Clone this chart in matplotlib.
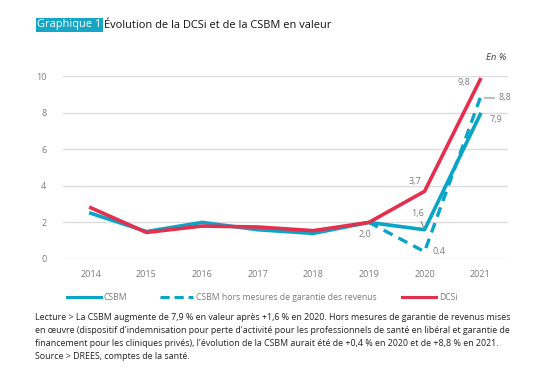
import matplotlib
matplotlib.use("Agg")
import matplotlib.pyplot as plt

plt.rcParams['font.family'] = ['Open Sans', 'DejaVu Sans']

years = [2014, 2015, 2016, 2017, 2018, 2019, 2020, 2021]
csbm = [2.5, 1.5, 2.0, 1.6, 1.4, 2.0, 1.6, 7.9]
dcsi = [2.8, 1.45, 1.8, 1.75, 1.55, 2.0, 3.7, 9.8]
csbm_hors_years = [2019, 2020, 2021]
csbm_hors = [2.0, 0.4, 8.8]
yticks = [0, 2, 4, 6, 8, 10]

BLUE = '#0aa5c6'
RED = '#e3304f'
GRAY = '#7a7a7a'

W, H = 549, 373
fig = plt.figure(figsize=(W / 100, H / 100), dpi=100)

def fx(px):
    return px / W

def fy(py):
    return 1 - py / H

ax = fig.add_axes([fx(63), fy(259), fx(508) - fx(63), fy(76) - fy(259)])
ax.set_xlim(2013.5, 2021.5)
ax.set_ylim(0, 10)
for s in ax.spines.values():
    s.set_visible(False)
ax.set_yticks(yticks)
ax.set_yticklabels([str(v) for v in yticks])
ax.set_xticks(years)
ax.set_xticklabels([str(y) for y in years])
ax.tick_params(length=0, labelsize=6.5, colors=GRAY, pad=8)
ax.tick_params(axis='y', pad=12)
ax.grid(axis='y', color='#dcdcdc', linewidth=1)
ax.set_axisbelow(True)

ax.plot(years, csbm, color=BLUE, lw=2.6, clip_on=False)
ax.plot(csbm_hors_years, csbm_hors, color=BLUE, lw=2.4, ls=(0, (3, 2)), clip_on=False)
ax.plot(years, dcsi, color=RED, lw=2.6, clip_on=False)

lab = dict(fontsize=6.5, color=GRAY, ha='center', va='center', textcoords='offset points', zorder=6)
ax.annotate('9,8', (2021, dcsi[7]), xytext=(-12, -2), **lab)
ax.annotate('8,8', (2021, csbm_hors[2]), xytext=(18, 0),
            arrowprops=dict(arrowstyle='-', color='#8a8a8a', lw=0.8, shrinkA=1, shrinkB=3), **lab)
ax.annotate('7,9', (2021, csbm[7]), xytext=(11, -4), **lab)
ax.annotate('3,7', (2020, dcsi[6]), xytext=(-7, 7), **lab)
ax.annotate('1,6', (2020, csbm[6]), xytext=(-5, 12),
            arrowprops=dict(arrowstyle='-', color='#8a8a8a', lw=0.8, shrinkA=1, shrinkB=1), **lab)
ax.annotate('2,0', (2019, csbm[5]), xytext=(-3, -9), **lab)
ax.annotate('0,4', (2020, csbm_hors[1]), xytext=(10, 0), **lab)

# Title
t1 = fig.text(fx(37), fy(25), 'Graphique 1', fontsize=7.9, color='white', ha='left', va='center',
              bbox=dict(boxstyle='square,pad=0.12', fc='#16a6c6', ec='none'))
fig.canvas.draw()
bb = t1.get_window_extent(fig.canvas.get_renderer())
fig.text((bb.x1 + 3) / W, fy(25), 'Évolution de la DCSi et de la CSBM en valeur', fontsize=7.9, color='#111111',
         ha='left', va='center')
fig.text(fx(506), fy(57), 'En %', fontsize=6.8, color='#444444', style='italic', ha='right', va='center')

# Legend
ly = fy(297)
fig.add_artist(plt.Line2D([fx(67), fx(101)], [ly, ly], color=BLUE, lw=2.2))
fig.text(fx(104), ly, 'CSBM', fontsize=6.2, color=GRAY, ha='left', va='center')
fig.add_artist(plt.Line2D([fx(160), fx(193)], [ly, ly], color=BLUE, lw=2.2, ls=(0, (3, 1.6))))
fig.text(fx(196), ly, 'CSBM hors mesures de garantie des revenus', fontsize=6.2, color=GRAY, ha='left', va='center')
fig.add_artist(plt.Line2D([fx(402), fx(436)], [ly, ly], color=RED, lw=2.2))
fig.text(fx(439), ly, 'DCSi', fontsize=6.2, color=GRAY, ha='left', va='center')

# Footnote
notes = [
    "Lecture > La CSBM augmente de 7,9 % en valeur après +1,6 % en 2020. Hors mesures de garantie de revenus mises",
    "en œuvre (dispositif d'indemnisation pour perte d'activité pour les professionnels de santé en libéral et garantie de",
    "financement pour les cliniques privés), l'évolution de la CSBM aurait été de +0,4 % en 2020 et de +8,8 % en 2021.",
    "Source > DREES, comptes de la santé.",
]
for i, t in enumerate(notes):
    fig.text(fx(35), fy(318 + i * 12.7), t, fontsize=6.4, color='#222222', ha='left', va='center')

fig.savefig('out.png', dpi=100, facecolor='white')
